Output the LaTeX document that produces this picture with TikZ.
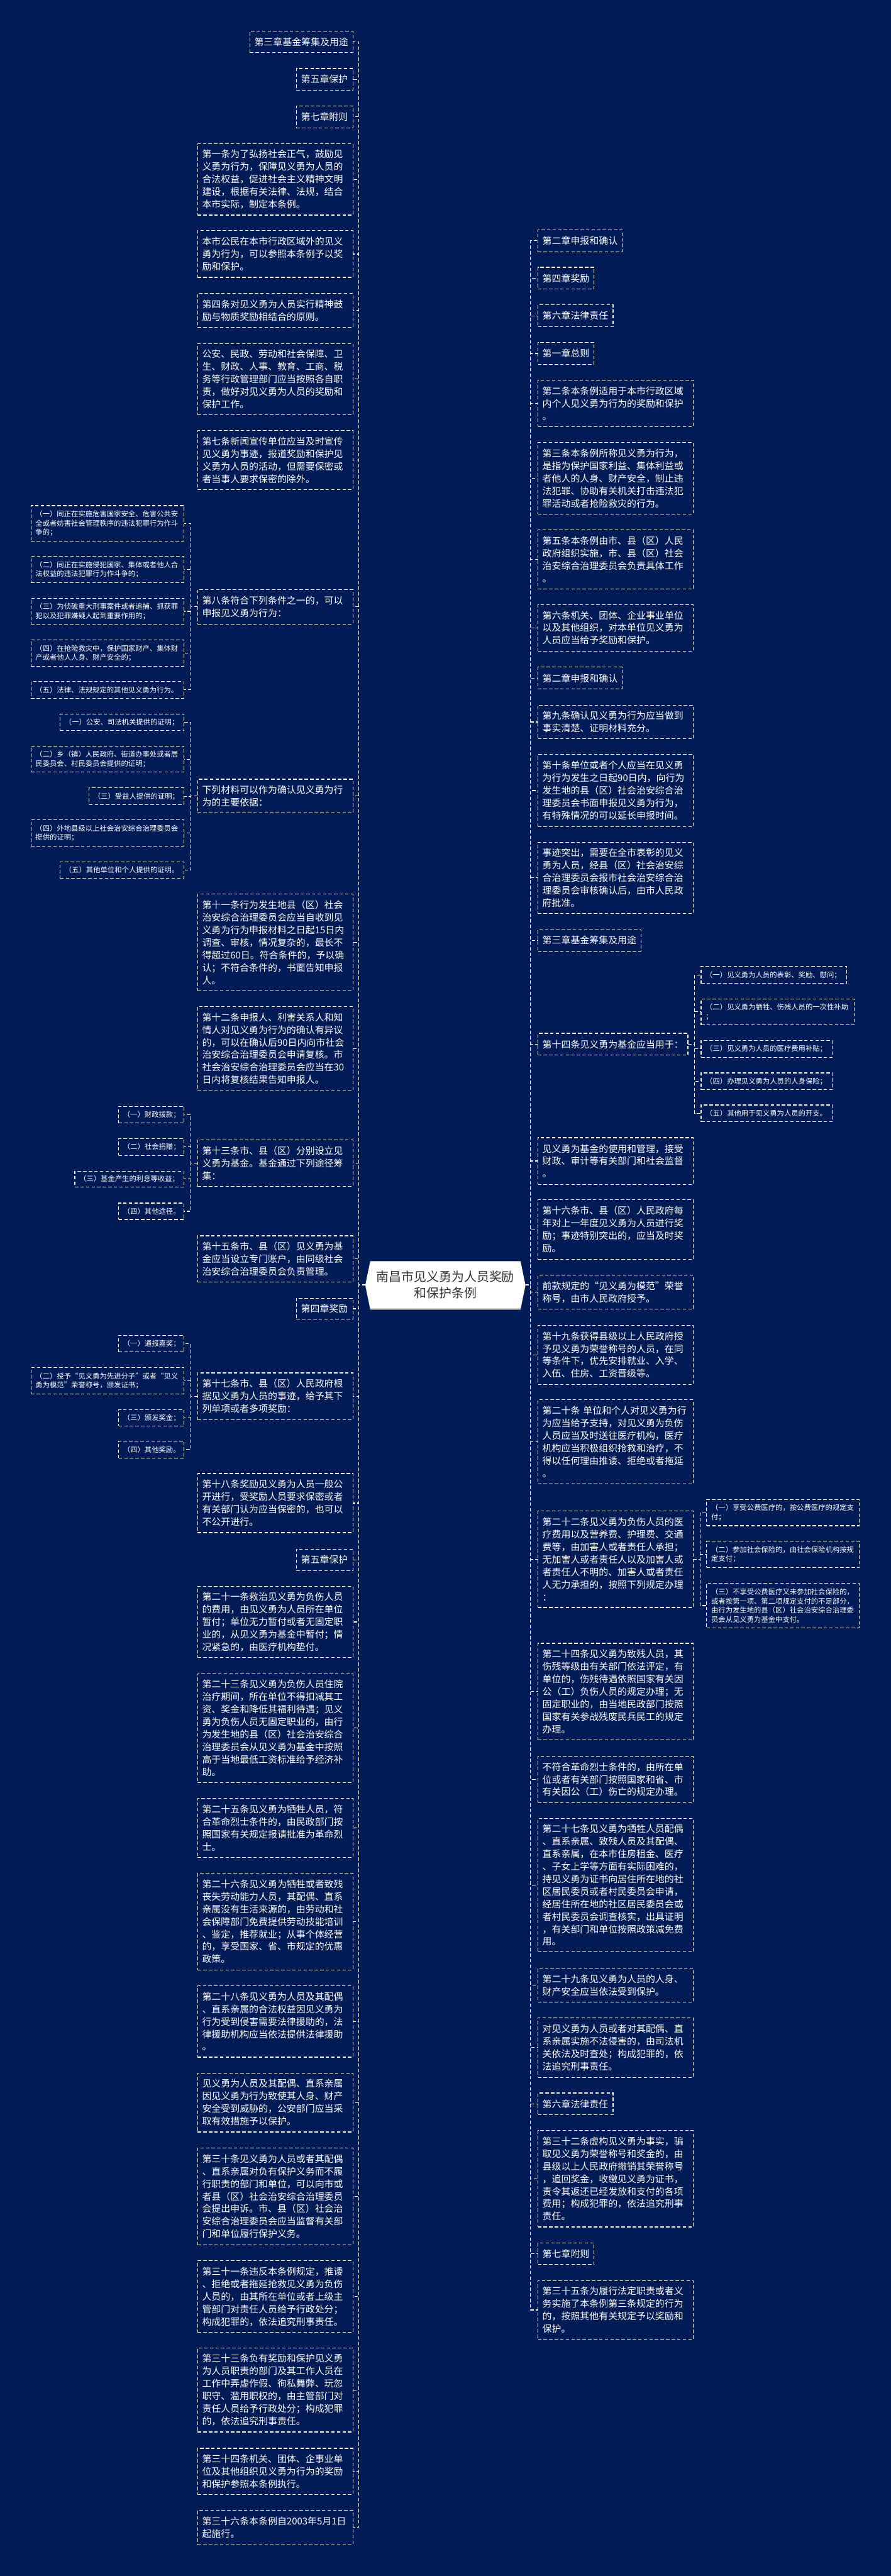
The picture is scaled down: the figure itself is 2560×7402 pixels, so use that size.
\documentclass[tikz,border=0pt]{standalone}
\usepackage{fontspec}
\setmainfont{Noto Sans CJK SC}
\definecolor{bg}{HTML}{011B57}
\definecolor{roottext}{HTML}{333333}
\tikzset{
  bigbox/.style={draw=white, line width=2pt, dash pattern=on 10pt off 6pt, fill=bg, text=white,
    font={\fontsize{27}{36}\selectfont}, align=left, inner xsep=13pt, inner ysep=0pt, outer sep=0pt, anchor=north west},
  smallbox/.style={bigbox, font={\fontsize{20.5}{26.5}\selectfont}},
  conn/.style={draw=white, line width=2pt, dash pattern=on 10pt off 6pt},
  rootnode/.style={text=roottext, font={\fontsize{36}{48}\selectfont}, align=center, minimum width=460pt, minimum height=136pt, inner sep=0pt, outer sep=0pt},
}
\newcommand\placebox[7]{%
  \pgfmathsetmacro\pbw{#5-#3}%
  \pgfmathsetmacro\pbh{#6-#4}%
  \pgfmathsetmacro\pbt{#5-#3-26}%
  \node[#1, minimum width=\pbw pt, minimum height=\pbh pt, text width=\pbt pt] (#2) at (#3,#4) {#7};}
\begin{document}
\begin{tikzpicture}[x=1pt,y=-1pt]
\fill[bg] (0,0) rectangle (2560,7402);
\useasboundingbox (0,0) rectangle (2560,7402);

% root
\fill[black!45] (1064,3628) -- (1496,3628) -- (1510,3696) -- (1496,3764) -- (1064,3764) -- (1050,3696) -- cycle;
\fill[white] (1064,3624) -- (1496,3624) -- (1510,3692) -- (1496,3760) -- (1064,3760) -- (1050,3692) -- cycle;
\node[rootnode] (root) at (1280,3692) {南昌市见义勇为人员奖励\\和保护条例};

% left column
\placebox{bigbox}{L1}{718}{90}{1014}{151}{第三章基金筹集及用途}
\placebox{bigbox}{L2}{852}{197}{1014}{259}{第五章保护}
\placebox{bigbox}{L3}{852}{304}{1014}{367}{第七章附则}
\placebox{bigbox}{L4}{568}{413}{1014}{618}{第一条为了弘扬社会正气，鼓励见\\义勇为行为，保障见义勇为人员的\\合法权益，促进社会主义精神文明\\建设，根据有关法律、法规，结合\\本市实际，制定本条例。}
\placebox{bigbox}{L5}{568}{663}{1014}{797}{本市公民在本市行政区域外的见义\\勇为行为，可以参照本条例予以奖\\励和保护。}
\placebox{bigbox}{L6}{568}{843}{1014}{941}{第四条对见义勇为人员实行精神鼓\\励与物质奖励相结合的原则。}
\placebox{bigbox}{L7}{568}{987}{1014}{1192}{公安、民政、劳动和社会保障、卫\\生、财政、人事、教育、工商、税\\务等行政管理部门应当按照各自职\\责，做好对见义勇为人员的奖励和\\保护工作。}
\placebox{bigbox}{L8}{568}{1237}{1014}{1407}{第七条新闻宣传单位应当及时宣传\\见义勇为事迹，报道奖励和保护见\\义勇为人员的活动，但需要保密或\\者当事人要求保密的除外。}
\placebox{bigbox}{L9}{568}{1694}{1014}{1793}{第八条符合下列条件之一的，可以\\申报见义勇为行为：}
\placebox{bigbox}{L10}{568}{2239}{1014}{2336}{下列材料可以作为确认见义勇为行\\为的主要依据：}
\placebox{bigbox}{L11}{568}{2569}{1014}{2847}{第十一条行为发生地县（区）社会\\治安综合治理委员会应当自收到见\\义勇为行为申报材料之日起15日内\\调查、审核，情况复杂的，最长不\\得超过60日。符合条件的，予以确\\认；不符合条件的，书面告知申报\\人。}
\placebox{bigbox}{L12}{568}{2892}{1014}{3134}{第十二条申报人、利害关系人和知\\情人对见义勇为行为的确认有异议\\的，可以在确认后90日内向市社会\\治安综合治理委员会申请复核。市\\社会治安综合治理委员会应当在30\\日内将复核结果告知申报人。}
\placebox{bigbox}{L13}{568}{3275}{1014}{3409}{第十三条市、县（区）分别设立见\\义勇为基金。基金通过下列途径筹\\集：}
\placebox{bigbox}{L14}{568}{3551}{1014}{3684}{第十五条市、县（区）见义勇为基\\金应当设立专门账户，由同级社会\\治安综合治理委员会负责管理。}
\placebox{bigbox}{L15}{852}{3730}{1014}{3791}{第四章奖励}
\placebox{bigbox}{L16}{568}{3945}{1014}{4079}{第十七条市、县（区）人民政府根\\据见义勇为人员的事迹，给予其下\\列单项或者多项奖励：}
\placebox{bigbox}{L17}{568}{4234}{1014}{4404}{第十八条奖励见义勇为人员一般公\\开进行，受奖励人员要求保密或者\\有关部门认为应当保密的，也可以\\不公开进行。}
\placebox{bigbox}{L18}{852}{4451}{1014}{4513}{第五章保护}
\placebox{bigbox}{L19}{568}{4558}{1014}{4763}{第二十一条救治见义勇为负伤人员\\的费用，由见义勇为人员所在单位\\暂付；单位无力暂付或者无固定职\\业的，从见义勇为基金中暂付；情\\况紧急的，由医疗机构垫付。}
\placebox{bigbox}{L20}{568}{4809}{1014}{5122}{第二十三条见义勇为负伤人员住院\\治疗期间，所在单位不得扣减其工\\资、奖金和降低其福利待遇；见义\\勇为负伤人员无固定职业的，由行\\为发生地的县（区）社会治安综合\\治理委员会从见义勇为基金中按照\\高于当地最低工资标准给予经济补\\助。}
\placebox{bigbox}{L21}{568}{5168}{1014}{5337}{第二十五条见义勇为牺牲人员，符\\合革命烈士条件的，由民政部门按\\照国家有关规定报请批准为革命烈\\士。}
\placebox{bigbox}{L22}{568}{5383}{1014}{5660}{第二十六条见义勇为牺牲或者致残\\丧失劳动能力人员，其配偶、直系\\亲属没有生活来源的，由劳动和社\\会保障部门免费提供劳动技能培训\\、鉴定，推荐就业；从事个体经营\\的，享受国家、省、市规定的优惠\\政策。}
\placebox{bigbox}{L23}{568}{5706}{1014}{5911}{第二十八条见义勇为人员及其配偶\\、直系亲属的合法权益因见义勇为\\行为受到侵害需要法律援助的，法\\律援助机构应当依法提供法律援助\\。}
\placebox{bigbox}{L24}{568}{5957}{1014}{6126}{见义勇为人员及其配偶、直系亲属\\因见义勇为行为致使其人身、财产\\安全受到威胁的，公安部门应当采\\取有效措施予以保护。}
\placebox{bigbox}{L25}{568}{6172}{1014}{6450}{第三十条见义勇为人员或者其配偶\\、直系亲属对负有保护义务而不履\\行职责的部门和单位，可以向市或\\者县（区）社会治安综合治理委员\\会提出申诉。市、县（区）社会治\\安综合治理委员会应当监督有关部\\门和单位履行保护义务。}
\placebox{bigbox}{L26}{568}{6496}{1014}{6702}{第三十一条违反本条例规定，推诿\\、拒绝或者拖延抢救见义勇为负伤\\人员的，由其所在单位或者上级主\\管部门对责任人员给予行政处分；\\构成犯罪的，依法追究刑事责任。}
\placebox{bigbox}{L27}{568}{6747}{1014}{6988}{第三十三条负有奖励和保护见义勇\\为人员职责的部门及其工作人员在\\工作中弄虚作假、徇私舞弊、玩忽\\职守、滥用职权的，由主管部门对\\责任人员给予行政处分；构成犯罪\\的，依法追究刑事责任。}
\placebox{bigbox}{L28}{568}{7035}{1014}{7168}{第三十四条机关、团体、企事业单\\位及其他组织见义勇为行为的奖励\\和保护参照本条例执行。}
\placebox{bigbox}{L29}{568}{7213}{1014}{7312}{第三十六条本条例自2003年5月1日\\起施行。}

% left-left children
\placebox{smallbox}{K1}{89}{1453}{529}{1555}{（一）同正在实施危害国家安全、危害公共安\\全或者妨害社会管理秩序的违法犯罪行为作斗\\争的；}
\placebox{smallbox}{K2}{89}{1599}{529}{1674}{（二）同正在实施侵犯国家、集体或者他人合\\法权益的违法犯罪行为作斗争的；}
\placebox{smallbox}{K3}{89}{1719}{529}{1794}{（三）为侦破重大刑事案件或者追捕、抓获罪\\犯以及犯罪嫌疑人起到重要作用的；}
\placebox{smallbox}{K4}{89}{1839}{529}{1914}{（四）在抢险救灾中，保护国家财产、集体财\\产或者他人人身、财产安全的；}
\placebox{smallbox}{K5}{89}{1958}{529}{2006}{（五）法律、法规规定的其他见义勇为行为。}
\placebox{smallbox}{M1}{173}{2052}{529}{2099}{（一）公安、司法机关提供的证明；}
\placebox{smallbox}{M2}{89}{2144}{529}{2219}{（二）乡（镇）人民政府、街道办事处或者居\\民委员会、村民委员会提供的证明；}
\placebox{smallbox}{M3}{256}{2264}{529}{2312}{（三）受益人提供的证明；}
\placebox{smallbox}{M4}{89}{2356}{529}{2431}{（四）外地县级以上社会治安综合治理委员会\\提供的证明；}
\placebox{smallbox}{M5}{173}{2476}{529}{2524}{（五）其他单位和个人提供的证明。}
\placebox{smallbox}{N1}{341}{3179}{529}{3227}{（一）财政拨款；}
\placebox{smallbox}{N2}{341}{3272}{529}{3320}{（二）社会捐赠；}
\placebox{smallbox}{N3}{215}{3365}{529}{3411}{（三）基金产生的利息等收益；}
\placebox{smallbox}{N4}{341}{3457}{529}{3504}{（四）其他途径。}
\placebox{smallbox}{P1}{341}{3837}{529}{3885}{（一）通报嘉奖；}
\placebox{smallbox}{P2}{89}{3930}{529}{4005}{（二）授予“见义勇为先进分子”或者“见义\\勇为模范”荣誉称号，颁发证书；}
\placebox{smallbox}{P3}{341}{4050}{529}{4097}{（三）颁发奖金；}
\placebox{smallbox}{P4}{341}{4141}{529}{4189}{（四）其他奖励。}

% right column
\placebox{bigbox}{R1}{1546}{660}{1788}{724}{第二章申报和确认}
\placebox{bigbox}{R2}{1546}{768}{1707}{831}{第四章奖励}
\placebox{bigbox}{R3}{1546}{876}{1762}{939}{第六章法律责任}
\placebox{bigbox}{R4}{1546}{984}{1707}{1047}{第一章总则}
\placebox{bigbox}{R5}{1546}{1092}{1992}{1226}{第二条本条例适用于本市行政区域\\内个人见义勇为行为的奖励和保护\\。}
\placebox{bigbox}{R6}{1546}{1272}{1992}{1477}{第三条本条例所称见义勇为行为，\\是指为保护国家利益、集体利益或\\者他人的人身、财产安全，制止违\\法犯罪、协助有关机关打击违法犯\\罪活动或者抢险救灾的行为。}
\placebox{bigbox}{R7}{1546}{1522}{1992}{1693}{第五条本条例由市、县（区）人民\\政府组织实施，市、县（区）社会\\治安综合治理委员会负责具体工作\\。}
\placebox{bigbox}{R8}{1546}{1737}{1992}{1871}{第六条机关、团体、企业事业单位\\以及其他组织，对本单位见义勇为\\人员应当给予奖励和保护。}
\placebox{bigbox}{R9}{1546}{1917}{1788}{1980}{第二章申报和确认}
\placebox{bigbox}{R10}{1546}{2026}{1992}{2123}{第九条确认见义勇为行为应当做到\\事实清楚、证明材料充分。}
\placebox{bigbox}{R11}{1546}{2168}{1992}{2375}{第十条单位或者个人应当在见义勇\\为行为发生之日起90日内，向行为\\发生地的县（区）社会治安综合治\\理委员会书面申报见义勇为行为，\\有特殊情况的可以延长申报时间。}
\placebox{bigbox}{R12}{1546}{2420}{1992}{2625}{事迹突出，需要在全市表彰的见义\\勇为人员，经县（区）社会治安综\\合治理委员会报市社会治安综合治\\理委员会审核确认后，由市人民政\\府批准。}
\placebox{bigbox}{R13}{1546}{2671}{1842}{2733}{第三章基金筹集及用途}
\placebox{bigbox}{R14}{1546}{2969}{1977}{3032}{第十四条见义勇为基金应当用于：}
\placebox{bigbox}{R15}{1546}{3269}{1992}{3403}{见义勇为基金的使用和管理，接受\\财政、审计等有关部门和社会监督\\。}
\placebox{bigbox}{R16}{1546}{3447}{1992}{3619}{第十六条市、县（区）人民政府每\\年对上一年度见义勇为人员进行奖\\励；事迹特别突出的，应当及时奖\\励。}
\placebox{bigbox}{R17}{1546}{3664}{1992}{3762}{前款规定的“见义勇为模范”荣誉\\称号，由市人民政府授予。}
\placebox{bigbox}{R18}{1546}{3808}{1992}{3978}{第十九条获得县级以上人民政府授\\予见义勇为荣誉称号的人员，在同\\等条件下，优先安排就业、入学、\\入伍、住房、工资晋级等。}
\placebox{bigbox}{R19}{1546}{4022}{1992}{4264}{第二十条 单位和个人对见义勇为行\\为应当给予支持，对见义勇为负伤\\人员应当及时送往医疗机构，医疗\\机构应当积极组织抢救和治疗，不\\得以任何理由推诿、拒绝或者拖延\\。}
\placebox{bigbox}{R20}{1546}{4341}{1992}{4619}{第二十二条见义勇为负伤人员的医\\疗费用以及营养费、护理费、交通\\费等，由加害人或者责任人承担；\\无加害人或者责任人以及加害人或\\者责任人不明的、加害人或者责任\\人无力承担的，按照下列规定办理\\：}
\placebox{bigbox}{R21}{1546}{4722}{1992}{5000}{第二十四条见义勇为致残人员，其\\伤残等级由有关部门依法评定，有\\单位的，伤残待遇依照国家有关因\\公（工）负伤人员的规定办理；无\\固定职业的，由当地民政部门按照\\国家有关参战残废民兵民工的规定\\办理。}
\placebox{bigbox}{R22}{1546}{5046}{1992}{5180}{不符合革命烈士条件的，由所在单\\位或者有关部门按照国家和省、市\\有关因公（工）伤亡的规定办理。}
\placebox{bigbox}{R23}{1546}{5225}{1992}{5609}{第二十七条见义勇为牺牲人员配偶\\、直系亲属、致残人员及其配偶、\\直系亲属，在本市住房租金、医疗\\、子女上学等方面有实际困难的，\\持见义勇为证书向居住所在地的社\\区居民委员或者村民委员会申请，\\经居住所在地的社区居民委员会或\\者村民委员会调查核实，出具证明\\，有关部门和单位按照政策减免费\\用。}
\placebox{bigbox}{R24}{1546}{5655}{1992}{5753}{第二十九条见义勇为人员的人身、\\财产安全应当依法受到保护。}
\placebox{bigbox}{R25}{1546}{5798}{1992}{5969}{对见义勇为人员或者对其配偶、直\\系亲属实施不法侵害的，由司法机\\关依法及时查处；构成犯罪的，依\\法追究刑事责任。}
\placebox{bigbox}{R26}{1546}{6014}{1762}{6077}{第六章法律责任}
\placebox{bigbox}{R27}{1546}{6122}{1992}{6399}{第三十二条虚构见义勇为事实，骗\\取见义勇为荣誉称号和奖金的，由\\县级以上人民政府撤销其荣誉称号\\，追回奖金，收缴见义勇为证书，\\责令其返还已经发放和支付的各项\\费用；构成犯罪的，依法追究刑事\\责任。}
\placebox{bigbox}{R28}{1546}{6445}{1707}{6507}{第七章附则}
\placebox{bigbox}{R29}{1546}{6553}{1992}{6722}{第三十五条为履行法定职责或者义\\务实施了本条例第三条规定的行为\\的，按照其他有关规定予以奖励和\\保护。}

% right-right children
\placebox{smallbox}{S1}{2015}{2777}{2434}{2826}{（一）见义勇为人员的表彰、奖励、慰问；}
\placebox{smallbox}{S2}{2015}{2870}{2455}{2945}{（二）见义勇为牺牲、伤残人员的一次性补助\\；}
\placebox{smallbox}{S3}{2015}{2990}{2392}{3038}{（三）见义勇为人员的医疗费用补贴；}
\placebox{smallbox}{S4}{2015}{3083}{2392}{3131}{（四）办理见义勇为人员的人身保险；}
\placebox{smallbox}{S5}{2015}{3175}{2392}{3223}{（五）其他用于见义勇为人员的开支。}
\placebox{smallbox}{T1}{2031}{4309}{2470}{4384}{（一）享受公费医疗的，按公费医疗的规定支\\付；}
\placebox{smallbox}{T2}{2031}{4429}{2470}{4504}{（二）参加社会保险的，由社会保险机构按规\\定支付；}
\placebox{smallbox}{T3}{2031}{4550}{2470}{4677}{（三）不享受公费医疗又未参加社会保险的，\\或者按第一项、第二项规定支付的不足部分，\\由行为发生地的县（区）社会治安综合治理委\\员会从见义勇为基金中支付。}

% connectors
\foreach \nm in {L1,L2,L3,L4,L5,L6,L7,L8,L9,L10,L11,L12,L13,L14,L15,L16,L17,L18,L19,L20,L21,L22,L23,L24,L25,L26,L27,L28,L29}
  \draw[conn] (root.west) -- ++(-19,0) |- (\nm.east);
\foreach \nm in {R1,R2,R3,R4,R5,R6,R7,R8,R9,R10,R11,R12,R13,R14,R15,R16,R17,R18,R19,R20,R21,R22,R23,R24,R25,R26,R27,R28,R29}
  \draw[conn] (root.east) -- ++(15,0) |- (\nm.west);
\foreach \nm in {K1,K2,K3,K4,K5}
  \draw[conn] (L9.west) -- ++(-20,0) |- (\nm.east);
\foreach \nm in {M1,M2,M3,M4,M5}
  \draw[conn] (L10.west) -- ++(-20,0) |- (\nm.east);
\foreach \nm in {N1,N2,N3,N4}
  \draw[conn] (L13.west) -- ++(-20,0) |- (\nm.east);
\foreach \nm in {P1,P2,P3,P4}
  \draw[conn] (L16.west) -- ++(-20,0) |- (\nm.east);
\foreach \nm in {S1,S2,S3,S4,S5}
  \draw[conn] (R14.east) -- ++(19,0) |- (\nm.west);
\foreach \nm in {T1,T2,T3}
  \draw[conn] (R20.east) -- ++(20,0) |- (\nm.west);
\end{tikzpicture}
\end{document}
